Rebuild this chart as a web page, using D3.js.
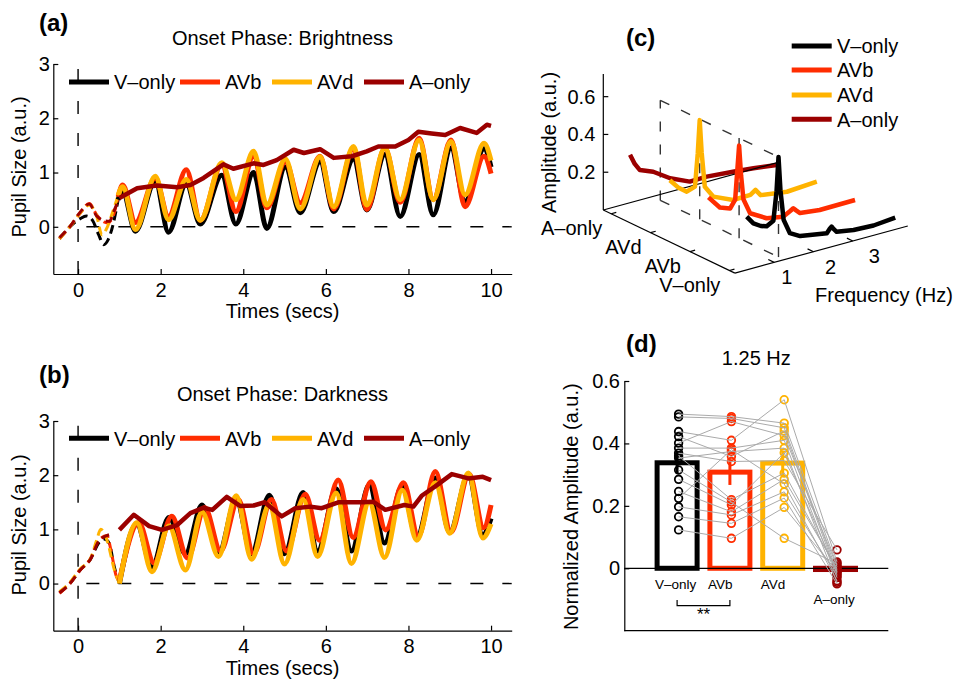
<!DOCTYPE html>
<html>
<head>
<meta charset="utf-8">
<script src="https://cdn.jsdelivr.net/npm/d3@7"></script>
<style>
    body { margin: 0; background: #fff; }
    svg { background: #fff; }
</style>
</head>
<body>
<svg id="fig" width="955" height="680"></svg>
<script>
// ---------- data ----------
const conditions = ['V\u2013only', 'AVb', 'AVd', 'A\u2013only'];
const colors = ['#000000', '#ff2d00', '#ffb300', '#9b0000'];

const timeTicks = [0, 2, 4, 6, 8, 10];
const pupilTicks = [0, 1, 2, 3];

// (a) brightness: peak / trough times and values
const timesA = [0.97, 1.08, 1.39, 1.87, 2.19, 2.62, 2.96, 3.48, 3.82, 4.25, 4.57, 5.02, 5.38,
    5.86, 6.19, 6.67, 6.99, 7.43, 7.8, 8.26, 8.6, 9.03, 9.37, 9.83, 10.0];
const vOnlyA = [0.5, 0.65, -0.08, 0.85, -0.1, 0.8, 0.05, 0.95, 0.05, 1.0, -0.03, 1.1, 0.26,
    1.2, 0.28, 1.25, 0.31, 1.33, 0.19, 1.33, 0.22, 1.45, 0.47, 1.44, 1.1];
const avbA = [0.55, 0.77, 0.08, 0.9, 0.19, 1.05, 0.12, 1.15, 0.28, 1.3, 0.35, 1.2, 0.44,
    1.3, 0.33, 1.45, 0.32, 1.45, 0.45, 1.63, 0.5, 1.6, 0.37, 1.3, 0.98];
const avdA = [0.58, 0.74, -0.05, 0.93, 0.13, 0.87, 0.12, 1.18, 0.5, 1.39, 0.4, 1.25, 0.33,
    1.29, 0.37, 1.48, 0.4, 1.45, 0.5, 1.6, 0.5, 1.57, 0.59, 1.54, 1.22];
const aOnlyA = [[1.0, 0.53], [1.43, 0.71], [1.91, 0.76], [2.4, 0.73], [2.72, 0.77], [3.04, 0.9],
    [3.52, 1.15], [3.76, 1.07], [4.25, 1.17], [4.49, 1.14], [4.81, 1.23], [5.22, 1.42],
    [5.47, 1.36], [5.86, 1.43], [6.19, 1.27], [6.63, 1.3], [6.99, 1.39], [7.27, 1.48],
    [7.68, 1.48], [8.0, 1.6], [8.24, 1.75], [8.56, 1.72], [8.89, 1.69], [9.25, 1.82],
    [9.65, 1.73], [9.9, 1.88], [10.0, 1.86]];
const preA = [
    [[-0.45, -0.22], [-0.2, 0.0], [0.05, 0.15], [0.2, 0.2], [0.35, 0.12], [0.5, -0.15], [0.62, -0.33], [0.72, -0.25], [0.85, 0.05], [0.97, 0.5]],
    [[-0.45, -0.22], [-0.2, 0.0], [0.05, 0.25], [0.27, 0.43], [0.45, 0.22], [0.6, 0.1], [0.72, 0.07], [0.85, 0.2], [0.97, 0.55]],
    [[-0.45, -0.22], [-0.2, 0.0], [0.05, 0.25], [0.27, 0.4], [0.45, 0.2], [0.58, -0.15], [0.68, -0.05], [0.85, 0.3], [0.97, 0.58]],
    [[-0.45, -0.2], [-0.2, 0.0], [0.05, 0.27], [0.27, 0.42], [0.45, 0.2], [0.6, 0.12], [0.75, 0.1], [0.9, 0.35], [1.0, 0.53]]
];

// (b) darkness
const timesB = [1.0, 1.42, 1.79, 2.2, 2.6, 3.0, 3.4, 3.83, 4.2, 4.63, 5.0, 5.45, 5.8, 6.25,
    6.62, 7.05, 7.42, 7.85, 8.2, 8.65, 9.0, 9.45, 9.8, 10.0];
const timesRedB = [1.0, 1.47, 1.84, 2.27, 2.65, 3.07, 3.45, 3.88, 4.25, 4.68, 5.05, 5.5, 5.85,
    6.3, 6.66, 7.09, 7.45, 7.88, 8.24, 8.65, 9.03, 9.47, 9.82, 10.0];
const vOnlyB = [0.0, 1.1, 0.3, 1.22, 0.55, 1.45, 0.55, 1.55, 0.55, 1.63, 0.55, 1.68, 0.6,
    1.75, 0.6, 1.82, 0.75, 1.8, 0.85, 1.95, 0.95, 2.0, 0.9, 1.2];
const avbB = [0.05, 1.12, 0.38, 1.24, 0.47, 1.4, 0.6, 1.55, 0.55, 1.55, 0.6, 1.65, 0.8,
    1.91, 0.85, 1.88, 0.99, 1.86, 0.87, 2.07, 0.95, 2.02, 1.03, 1.45];
const avdB = [0.0, 1.12, 0.22, 1.06, 0.25, 1.32, 0.5, 1.62, 0.45, 1.45, 0.36, 1.55, 0.5,
    1.67, 0.37, 1.5, 0.48, 1.72, 0.8, 1.86, 0.93, 2.04, 0.84, 1.1];
const aOnlyB = [[1.0, 0.99], [1.35, 1.27], [1.72, 1.06], [2.03, 0.99], [2.4, 1.08], [2.72, 1.3],
    [3.04, 1.4], [3.25, 1.36], [3.6, 1.6], [3.93, 1.43], [4.25, 1.44], [4.52, 1.5],
    [4.93, 1.24], [5.26, 1.39], [5.62, 1.42], [5.9, 1.39], [6.3, 1.5], [6.87, 1.5],
    [7.15, 1.51], [7.44, 1.36], [7.9, 1.45], [8.12, 1.42], [8.32, 1.62], [8.64, 1.79],
    [9.05, 2.02], [9.45, 1.94], [9.8, 1.97], [10.0, 1.91]];
const preB = [
    [[-0.45, -0.17], [-0.2, 0.0], [0.05, 0.25], [0.3, 0.45], [0.5, 0.75], [0.65, 0.82], [0.75, 0.75], [0.88, 0.3], [1.0, 0.0]],
    [[-0.45, -0.18], [-0.2, 0.0], [0.05, 0.25], [0.3, 0.46], [0.5, 0.8], [0.7, 0.88], [0.8, 0.6], [0.92, 0.15], [1.0, 0.05]],
    [[-0.45, -0.15], [-0.2, 0.02], [0.05, 0.27], [0.3, 0.46], [0.45, 0.8], [0.55, 1.0], [0.7, 0.8], [0.88, 0.25], [1.0, 0.0]],
    [[-0.45, -0.17], [-0.2, 0.0], [0.05, 0.25], [0.3, 0.45], [0.5, 0.78], [0.75, 0.9]]
];

// (c) amplitude spectra, [frequency, amplitude]
const spectrumConditions = ['A\u2013only', 'AVd', 'AVb', 'V\u2013only'];   // back to front
const ampTicks = [0.2, 0.4, 0.6];
const freqTicks = [1, 2, 3];
const specV = [[0.44, 0.26], [0.61, 0.215], [0.8, 0.19], [0.95, 0.18], [1.12, 0.2], [1.2, 0.35],
    [1.25, 0.53], [1.3, 0.35], [1.38, 0.19], [1.54, 0.11], [1.8, 0.08], [2.05, 0.072],
    [2.48, 0.057], [2.55, 0.075], [2.6, 0.085], [2.65, 0.07], [2.73, 0.05], [3.16, 0.035],
    [3.67, 0.03], [4.22, 0.04]];
const specAVb = [[0.47, 0.26], [0.76, 0.19], [1.02, 0.17], [1.15, 0.21], [1.2, 0.35], [1.25, 0.49],
    [1.3, 0.33], [1.36, 0.2], [1.53, 0.116], [1.95, 0.066], [2.37, 0.05], [2.55, 0.07],
    [2.63, 0.08], [2.7, 0.065], [2.8, 0.045], [3.3, 0.033], [4.2, 0.035]];
const specAVd = [[0.49, 0.25], [0.7, 0.2], [0.92, 0.165], [1.13, 0.18], [1.2, 0.35], [1.25, 0.525],
    [1.3, 0.35], [1.38, 0.165], [1.6, 0.1], [2.1, 0.054], [2.54, 0.056], [2.67, 0.075],
    [2.8, 0.04], [3.47, 0.02], [4.23, 0.03]];
const specA = [[0.48, 0.285], [0.6, 0.23], [0.73, 0.19], [1.07, 0.162], [1.5, 0.103], [2.0, 0.057],
    [2.43, 0.059], [3.1, 0.047], [3.62, 0.036], [4.21, 0.02]];

// (d) normalized amplitude at 1.25 Hz
const barMeans = [0.338, 0.308, 0.337, -0.004];
const barErrors = [0.035, 0.041, 0.04, 0.012];
const normTicks = [0, 0.2, 0.4, 0.6];
const subjV = [0.494, 0.485, 0.438, 0.422, 0.401, 0.385, 0.369, 0.36, 0.353, 0.315, 0.285, 0.246, 0.224, 0.197, 0.165, 0.123];
const subjAVb = [0.486, 0.48, 0.41, 0.358, 0.47, 0.385, 0.342, 0.22, 0.374, 0.212, 0.203, 0.181, 0.38, 0.171, 0.144, 0.096];
const subjAVd = [0.465, 0.45, 0.54, 0.44, 0.425, 0.41, 0.345, 0.305, 0.385, 0.096, 0.37, 0.285, 0.27, 0.245, 0.225, 0.195];
const subjA = [0.01, -0.01, 0.02, -0.02, 0.005, -0.03, 0.059, -0.005, -0.045, 0.015, -0.015, 0.0, -0.04, -0.025, -0.05, -0.01];

// ---------- layout ----------
const FONT = '"Liberation Sans", Arial, Helvetica, sans-serif';
const svg = d3.select('#fig');

let c = {
    ts: {
        xDomain: [-0.6, 10.5],
        yDomain: [-0.87, 3],
        xRange: [53.3, 511.7],
        legendX: [69, 180, 272, 364]
    },
    a: { id: 'a', yRange: [274, 64], label: 31, title: 44.5, legend: 82, xlabel: 317.5, ylabelY: 167, name: 'Onset Phase: Brightness' },
    b: { id: 'b', yRange: [630.7, 421], label: 383, title: 401, legend: 438.3, xlabel: 675, ylabelY: 525, name: 'Onset Phase: Darkness' },
    spec: {
        origin: [603.3, 210],
        fMax: 4.4,
        kDomain: [0.8, 4.14],
        aMax: 0.72
    },
    bar: {
        xRange: [624.3, 888.3],
        yRange: [630.7, 381]
    }
};

function translate(x, y) {
    return 'translate(' + x + ',' + y + ')';
}

function styleAxis(g) {
    g.attr('font-size', 20).attr('font-family', FONT);
    g.selectAll('path.domain').attr('stroke', '#000').attr('stroke-width', 1.2);
    g.selectAll('.tick line').attr('stroke', '#000').attr('stroke-width', 1.2);
    g.selectAll('.tick text').attr('fill', '#000');
}

function addText(g, str, x, y, size, opts = {}) {
    let t = g.append('text')
        .attr('x', x).attr('y', y)
        .attr('font-family', FONT)
        .attr('font-size', size)
        .attr('text-anchor', opts.anchor || 'start')
        .attr('font-weight', opts.weight || 'normal')
        .attr('fill', '#000')
        .text(str);
    if (opts.rotate) t.attr('transform', 'rotate(-90,' + x + ',' + y + ')');
    return t;
}

// ---------- panels (a) and (b) ----------
function drawTimePanel(p, pre, mains) {
    let g = svg.append('g').attr('id', 'panel-' + p.id);
    let x = d3.scaleLinear().domain(c.ts.xDomain).range(c.ts.xRange);
    let y = d3.scaleLinear().domain(c.ts.yDomain).range(p.yRange);

    g.append('g').attr('transform', translate(0, p.yRange[0]))
        .call(d3.axisBottom(x).tickValues(timeTicks).tickFormat(d3.format('d'))
            .tickSizeInner(-5).tickSizeOuter(0).tickPadding(8.5))
        .call(styleAxis);
    g.append('g').attr('transform', translate(c.ts.xRange[0], 0))
        .call(d3.axisLeft(y).tickValues(pupilTicks).tickFormat(d3.format('d'))
            .tickSizeInner(-5).tickSizeOuter(0).tickPadding(3.5))
        .call(styleAxis);

    // reference dashed lines at t = 0 and pupil = 0
    g.append('line')
        .attr('x1', x(0)).attr('x2', x(0))
        .attr('y1', y(c.ts.yDomain[0])).attr('y2', y(3))
        .attr('stroke', '#000').attr('stroke-width', 1.4).attr('stroke-dasharray', '13,19');
    g.append('line')
        .attr('x1', x(0.2)).attr('x2', x(c.ts.xDomain[1]))
        .attr('y1', y(0)).attr('y2', y(0))
        .attr('stroke', '#000').attr('stroke-width', 1.4).attr('stroke-dasharray', '13,19');

    let smooth = d3.line().x(d => x(d[0])).y(d => y(d[1])).curve(d3.curveMonotoneX);
    let rough = d3.line().x(d => x(d[0])).y(d => y(d[1])).curve(d3.curveLinear);

    // baseline period, dashed
    pre.forEach((seg, i) => {
        g.append('path')
            .attr('d', smooth(seg))
            .attr('fill', 'none')
            .attr('stroke', colors[i])
            .attr('stroke-width', 3)
            .attr('stroke-dasharray', '9,5');
    });

    // stimulation period
    mains.forEach((ser, i) => {
        g.append('path')
            .attr('d', (i === 3 ? rough : smooth)(ser))
            .attr('fill', 'none')
            .attr('stroke', colors[i])
            .attr('stroke-width', i === 3 ? 4.5 : 5)
            .attr('stroke-linejoin', 'round');
    });

    // legend
    conditions.forEach((name, i) => {
        let lx = c.ts.legendX[i];
        g.append('line')
            .attr('x1', lx).attr('x2', lx + 40)
            .attr('y1', p.legend).attr('y2', p.legend)
            .attr('stroke', colors[i]).attr('stroke-width', 5);
        addText(g, name, lx + 45, p.legend + 7.3, 20);
    });

    let mid = (c.ts.xRange[0] + c.ts.xRange[1]) / 2;
    addText(g, '(' + p.id + ')', 39, p.label, 24, { weight: 'bold' });
    addText(g, p.name, mid, p.title, 20, { anchor: 'middle' });
    addText(g, 'Times (secs)', mid, p.xlabel, 20, { anchor: 'middle' });
    addText(g, 'Pupil Size (a.u.)', 26, p.ylabelY, 20, { anchor: 'middle', rotate: true });
}

drawTimePanel(c.a, preA, [d3.zip(timesA, vOnlyA), d3.zip(timesA, avbA), d3.zip(timesA, avdA), aOnlyA]);
drawTimePanel(c.b, preB, [d3.zip(timesB, vOnlyB), d3.zip(timesRedB, avbB), d3.zip(timesB, avdB), aOnlyB]);

// ---------- panel (c): pseudo 3D spectra ----------
function drawSpectra() {
    let g = svg.append('g').attr('id', 'panel-c');
    let s = c.spec;
    let fX = d3.scaleLinear().domain([0, s.fMax]).range([0, 172.9]);
    let fY = d3.scaleLinear().domain([0, s.fMax]).range([0, -47.1]);
    let kX = d3.scaleLinear().domain(s.kDomain).range([0, 131.6]);
    let kY = d3.scaleLinear().domain(s.kDomain).range([0, 63.1]);
    let aY = d3.scaleLinear().domain([0, s.aMax]).range([0, -136]);
    let proj = (f, k, a) => [s.origin[0] + fX(f) + kX(k), s.origin[1] + fY(f) + kY(k) + aY(a)];
    let k0 = s.kDomain[0], k1 = s.kDomain[1];

    let seg = (p1, p2) => g.append('line')
        .attr('x1', p1[0]).attr('y1', p1[1]).attr('x2', p2[0]).attr('y2', p2[1])
        .attr('stroke', '#000').attr('stroke-width', 1.2);

    // axes
    seg(proj(0, k0, 0), proj(0, k0, s.aMax));
    seg(proj(0, k0, 0), proj(0, k1, 0));
    seg(proj(0, k1, 0), proj(s.fMax, k1, 0));

    ampTicks.forEach(a => {
        let p = proj(0, k0, a);
        seg(p, [p[0] + 5, p[1]]);
        addText(g, a.toFixed(1), p[0] - 8, p[1] + 7, 20, { anchor: 'end' });
    });
    spectrumConditions.forEach((name, i) => {
        let k = i + 1;
        let p = proj(0, k, 0);
        seg(p, proj(0.13, k, 0));
        addText(g, name, p[0] - 9, p[1] + 21.5, 20, { anchor: 'end' });
    });
    freqTicks.forEach(f => {
        let p = proj(f, k1, 0);
        seg(p, proj(f, k1 - 0.15, 0));
        addText(g, String(f), p[0] + 8 + 4.5 * f, p[1] + 22, 20, { anchor: 'middle' });
    });

    // dashed plane at 1.25 Hz
    let dashTop = 0.53;
    let dash = (p1, p2) => g.append('line')
        .attr('x1', p1[0]).attr('y1', p1[1]).attr('x2', p2[0]).attr('y2', p2[1])
        .attr('stroke', '#333').attr('stroke-width', 1.4).attr('stroke-dasharray', '10,13');
    [1, 2, 3, 4].forEach(k => dash(proj(1.25, k, 0), proj(1.25, k, dashTop)));
    dash(proj(1.25, 1, dashTop), proj(1.25, 4, dashTop));
    dash(proj(1.25, 1, 0), proj(1.25, 4, 0));

    let spectra = [specA, specAVd, specAVb, specV];
    let specColors = [colors[3], colors[2], colors[1], colors[0]];
    spectra.forEach((sp, i) => {
        let k = i + 1;
        let line = d3.line().x(d => proj(d[0], k, d[1])[0]).y(d => proj(d[0], k, d[1])[1]);
        g.append('path')
            .attr('d', line(sp))
            .attr('fill', 'none')
            .attr('stroke', specColors[i])
            .attr('stroke-width', 4.5)
            .attr('stroke-linejoin', 'round');
        if (i === 0) {
            // back floor edge drawn over the A-only trace
            seg(proj(0, k0, 0), proj(s.fMax, k0, 0));
        }
    });

    // legend
    let rows = [46, 70, 95, 119.3];
    conditions.forEach((name, i) => {
        g.append('line')
            .attr('x1', 791.7).attr('x2', 831.7)
            .attr('y1', rows[i]).attr('y2', rows[i])
            .attr('stroke', colors[i]).attr('stroke-width', 5);
        addText(g, name, 837, rows[i] + 7.3, 20);
    });

    addText(g, '(c)', 626, 46, 24, { weight: 'bold' });
    addText(g, 'Amplitude (a.u.)', 556, 142.5, 20, { anchor: 'middle', rotate: true });
    addText(g, 'Frequency (Hz)', 815, 301.5, 20);
}

drawSpectra();

// ---------- panel (d): bars with subjects ----------
function drawBars() {
    let g = svg.append('g').attr('id', 'panel-d');
    let x = d3.scaleLinear().domain([0, 5]).range(c.bar.xRange);
    let y = d3.scaleLinear().domain([-0.2, 0.6]).range(c.bar.yRange);

    g.append('g').attr('transform', translate(c.bar.xRange[0], 0))
        .call(d3.axisLeft(y).tickValues(normTicks).tickFormat(d => d === 0 ? '0' : d.toFixed(1))
            .tickSizeInner(-5).tickSizeOuter(0).tickPadding(4.3))
        .call(styleAxis);
    g.append('line')
        .attr('x1', x(0)).attr('x2', x(5)).attr('y1', y(-0.2)).attr('y2', y(-0.2))
        .attr('stroke', '#000').attr('stroke-width', 1.2);

    let barW = 40;
    barMeans.forEach((m, i) => {
        let cx = x(i + 1);
        g.append('rect')
            .attr('x', cx - barW / 2)
            .attr('y', y(Math.max(m, 0)))
            .attr('width', barW)
            .attr('height', Math.abs(y(m) - y(0)))
            .attr('fill', 'none')
            .attr('stroke', colors[i])
            .attr('stroke-width', 5);
        g.append('line')
            .attr('x1', cx).attr('x2', cx)
            .attr('y1', y(m - barErrors[i])).attr('y2', y(m + barErrors[i]))
            .attr('stroke', colors[i]).attr('stroke-width', 3);
    });

    // zero line
    g.append('line')
        .attr('x1', x(0)).attr('x2', x(5)).attr('y1', y(0)).attr('y2', y(0))
        .attr('stroke', '#000').attr('stroke-width', 1.3);

    let subjects = [subjV, subjAVb, subjAVd, subjA];
    subjects.forEach((vals, i) => {
        g.selectAll('circle.c' + i)
            .data(vals)
            .join('circle')
            .attr('class', 'c' + i)
            .attr('cx', x(i + 1) + 1.5)
            .attr('cy', d => y(d))
            .attr('r', 3.8)
            .attr('fill', 'none')
            .attr('stroke', colors[i])
            .attr('stroke-width', 1.8);
    });

    let subjLine = d3.line().x(d => x(d[0]) + 1.5).y(d => y(d[1]));
    subjV.forEach((v, j) => {
        let pts = subjects.map((vals, i) => [i + 1, vals[j]]);
        g.append('path')
            .attr('d', subjLine(pts))
            .attr('fill', 'none')
            .attr('stroke', '#aaaaaa')
            .attr('stroke-width', 1);
    });

    conditions.forEach((name, i) => {
        addText(g, name, x(i + 1) - 22, i === 3 ? 604 : 589, 13.5);
    });

    // significance bracket V-only vs AVb
    let by = 605.7;
    g.append('path')
        .attr('d', 'M' + x(1) + ',' + (by - 5.7) + 'V' + by + 'H' + x(2) + 'V' + (by - 5.7))
        .attr('fill', 'none').attr('stroke', '#000').attr('stroke-width', 1.2);
    addText(g, '**', (x(1) + x(2)) / 2, 620, 17, { anchor: 'middle' });

    addText(g, '(d)', 626, 352, 24, { weight: 'bold' });
    addText(g, '1.25 Hz', (c.bar.xRange[0] + c.bar.xRange[1]) / 2, 365, 20, { anchor: 'middle' });
    addText(g, 'Normalized Amplitude (a.u.)', 578.5, 506.7, 20, { anchor: 'middle', rotate: true });
}

drawBars();
</script>
</body>
</html>
